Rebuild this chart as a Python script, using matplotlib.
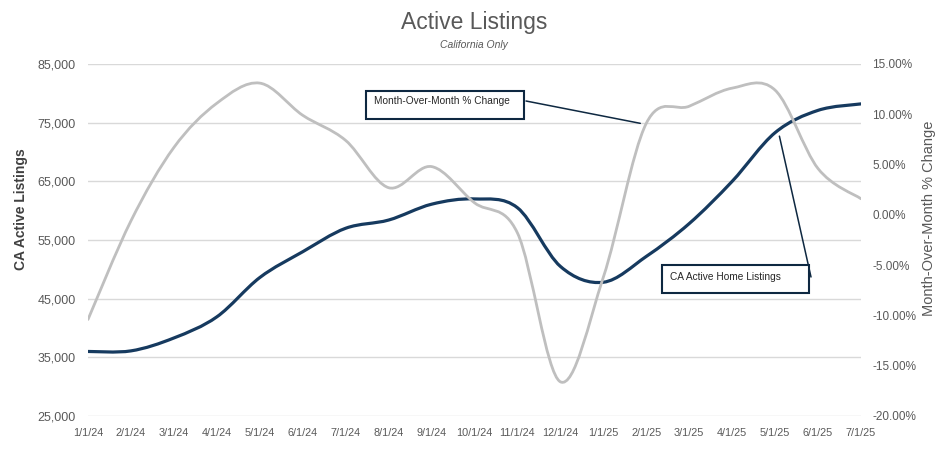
import matplotlib
matplotlib.use("Agg")
import matplotlib.pyplot as plt
import numpy as np
from matplotlib.path import Path
from matplotlib.patches import PathPatch, Rectangle
from matplotlib.ticker import FuncFormatter

# monthly data
dates = ['1/1/24', '2/1/24', '3/1/24', '4/1/24', '5/1/24', '6/1/24', '7/1/24',
         '8/1/24', '9/1/24', '10/1/24', '11/1/24', '12/1/24', '1/1/25', '2/1/25',
         '3/1/25', '4/1/25', '5/1/25', '6/1/25', '7/1/25']
listings = [36000, 36100, 38300, 41900, 48600, 53000, 57000, 58400, 61100, 62000,
            60500, 50500, 47800, 52200, 57800, 65000, 73300, 77100, 78200]
mom_pct = [-10.4, -0.6, 6.7, 11.1, 13.1, 9.9, 7.4, 2.7, 4.8, 1.2,
           -1.8, -16.6, -6.2, 9.1, 10.8, 12.6, 12.4, 4.6, 1.6]

left_ticks = [25000, 35000, 45000, 55000, 65000, 75000, 85000]
right_ticks = [-20, -15, -10, -5, 0, 5, 10, 15]

NAVY = '#163a5f'
GRAY = '#bfbfbf'
TXT = '#595959'
FONT = ['Liberation Sans Narrow', 'Liberation Sans', 'DejaVu Sans']
plt.rcParams['font.family'] = FONT

W, H = 948, 454


def smooth_path(xs, ys):
    # excel style smoothed line: cubic bezier through every point
    pts = np.column_stack([xs, ys]).astype(float)
    n = len(pts)
    verts = [pts[0]]
    codes = [Path.MOVETO]
    for i in range(n - 1):
        p0 = pts[max(i - 1, 0)]
        p1 = pts[i]
        p2 = pts[i + 1]
        p3 = pts[min(i + 2, n - 1)]
        verts += [p1 + (p2 - p0) / 6, p2 - (p3 - p1) / 6, p2]
        codes += [Path.CURVE4] * 3
    return Path(verts, codes)


def fx(px):
    return px / W


def fy(py):
    return 1 - py / H


fig = plt.figure(figsize=(W / 100, H / 100), dpi=100)
ax = fig.add_axes([fx(88), fy(416), fx(861) - fx(88), fy(64) - fy(416)])
ax2 = ax.twinx()

x = np.arange(len(dates))

ax.add_patch(PathPatch(smooth_path(x, listings), fill=False, edgecolor=NAVY,
                       lw=2.3, capstyle='round', joinstyle='round', zorder=3))
ax2.add_patch(PathPatch(smooth_path(x, mom_pct), fill=False, edgecolor=GRAY,
                        lw=2.0, capstyle='round', joinstyle='round', zorder=3))

ax.set_xlim(0, len(dates) - 1)
ax.set_ylim(left_ticks[0], left_ticks[-1])
ax2.set_ylim(right_ticks[0], right_ticks[-1])
ax.set_xticks(x)
ax.set_xticklabels(dates)
ax.set_yticks(left_ticks)
ax2.set_yticks(right_ticks)
ax.yaxis.set_major_formatter(FuncFormatter(lambda v, p: '{:,.0f}'.format(v)))
ax2.yaxis.set_major_formatter(FuncFormatter(lambda v, p: '{:.2f}%'.format(v)))

ax.grid(axis='y', color='#d9d9d9', lw=1)
ax.set_axisbelow(True)
for a in (ax, ax2):
    for s in a.spines.values():
        s.set_visible(False)
ax.tick_params(axis='x', length=0, pad=9, labelsize=7.8, labelcolor=TXT)
ax.tick_params(axis='y', length=0, pad=9, labelsize=9, labelcolor=TXT)
ax2.tick_params(axis='y', length=0, pad=8, labelsize=8.5, labelcolor=TXT)

# titles and axis names
fig.text(0.5, fy(22), 'Active Listings', ha='center', va='center',
         fontsize=16.5, color=TXT)
fig.text(fx(474), fy(45), 'California Only', ha='center', va='center',
         fontsize=7.5, style='italic', color=TXT)
fig.text(fx(21), fy(209), 'CA Active Listings', rotation=90, ha='center',
         va='center', fontsize=10, fontweight='bold', color='#404040')
fig.text(fx(929), fy(218), 'Month-Over-Month % Change', rotation=90,
         ha='center', va='center', fontsize=10.5, color=TXT)

# data label boxes with leader lines
BOX = '#0e2841'
fig.patches.append(Rectangle((fx(366), fy(119)), fx(524) - fx(366), fy(91) - fy(119),
                             transform=fig.transFigure, fill=True, facecolor='white',
                             edgecolor=BOX, lw=1.5, zorder=5))
fig.text(fx(374), fy(101), 'Month-Over-Month % Change', ha='left', va='center',
         fontsize=7.3, color='#262626', zorder=6)
ax2.annotate('', xy=(12.86, 9.1), xycoords='data', xytext=(fx(526), fy(101)),
             textcoords='figure fraction',
             arrowprops=dict(arrowstyle='-', color=BOX, lw=1.1, shrinkA=0, shrinkB=0))

fig.patches.append(Rectangle((fx(662), fy(293)), fx(809) - fx(662), fy(265) - fy(293),
                             transform=fig.transFigure, fill=True, facecolor='white',
                             edgecolor=BOX, lw=1.5, zorder=5))
fig.text(fx(670), fy(277), 'CA Active Home Listings', ha='left', va='center',
         fontsize=7.3, color='#262626', zorder=6)
ax.annotate('', xy=(16.1, 72700), xycoords='data', xytext=(fx(811), fy(277)),
            textcoords='figure fraction',
            arrowprops=dict(arrowstyle='-', color=BOX, lw=1.1, shrinkA=0, shrinkB=0))

fig.savefig('out.png', dpi=100)
